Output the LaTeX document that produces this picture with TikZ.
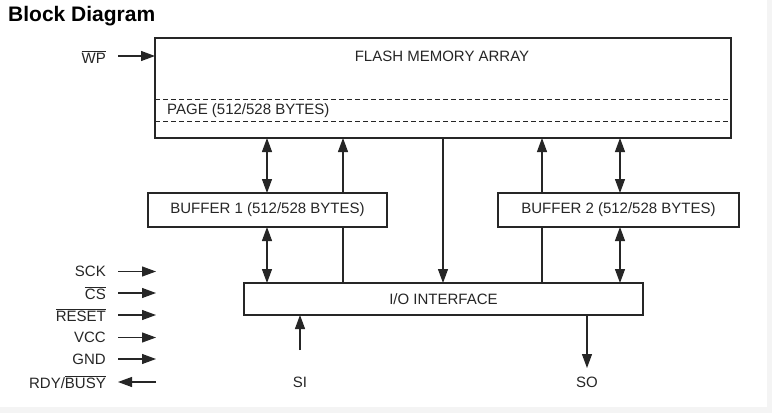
\documentclass[tikz,border=0pt]{standalone}
\usepackage{fontspec}
\setmainfont{Liberation Sans}
\usetikzlibrary{arrows.meta}
\newcommand\ovl[1]{$\overline{\hbox{#1}}$}
\definecolor{ink}{HTML}{262626}
\definecolor{strip}{HTML}{F4F4F4}
\tikzset{
  box/.style={draw=ink, line width=1.1pt, fill=white, inner sep=0pt, outer sep=0pt, font=\fontsize{15}{17}\selectfont, text=ink},
  lbl/.style={inner sep=0pt, font=\fontsize{15}{17}\selectfont, text=ink},
  conn/.style={draw=ink, line width=1.1pt},
  arr/.style={conn, -{Triangle[length=14pt,width=10pt]}},
  dbl/.style={conn, {Triangle[length=14pt,width=10pt]}-{Triangle[length=14pt,width=10pt]}},
  dashline/.style={draw=ink, line width=0.8pt, dash pattern=on 5pt off 3pt}
}
\begin{document}
\begin{tikzpicture}[x=1pt,y=-1pt]
\useasboundingbox (0,0) rectangle (772,413);
\fill[white] (0,0) rectangle (772,413);
\fill[strip] (767,0) rectangle (772,413);
\fill[strip] (0,407) rectangle (772,413);

\node[anchor=base west, inner sep=0pt, font=\fontsize{21}{24}\selectfont\bfseries] (title) at (8,21) {Block Diagram};

% blocks
\node[box, minimum width=576pt, minimum height=100pt] (flash) at (443,88) {};
\node[lbl] (flashtxt) at (442,56) {FLASH MEMORY ARRAY};
\draw[dashline] (flash.west |- 0,99) -- (flash.east |- 0,99);
\draw[dashline] (flash.west |- 0,121) -- (flash.east |- 0,121);
\node[lbl, anchor=west] (page) at (167,110.5) {PAGE (512/528 BYTES)};

\node[box, minimum width=239pt, minimum height=34pt] (buf1) at (267.5,210) {BUFFER 1 (512/528 BYTES)};
\node[box, minimum width=241pt, minimum height=34pt] (buf2) at (618.5,210) {BUFFER 2 (512/528 BYTES)};
\node[box, minimum width=399pt, minimum height=32pt] (io) at (443.5,299) {I/O INTERFACE};

% internal connectors
\coordinate (xa) at (267,0);
\coordinate (xb) at (343,0);
\coordinate (xc) at (443,0);
\coordinate (xd) at (542,0);
\coordinate (xe) at (620,0);
\draw[dbl] (flash.south -| xa) -- (buf1.north -| xa);
\draw[dbl] (buf1.south -| xa) -- (io.north -| xa);
\draw[conn] (io.north -| xb) -- (buf1.south -| xb);
\draw[arr] (buf1.north -| xb) -- (flash.south -| xb);
\draw[arr] (flash.south -| xc) -- (io.north -| xc);
\draw[conn] (io.north -| xd) -- (buf2.south -| xd);
\draw[arr] (buf2.north -| xd) -- (flash.south -| xd);
\draw[dbl] (flash.south -| xe) -- (buf2.north -| xe);
\draw[dbl] (buf2.south -| xe) -- (io.north -| xe);

% WP
\node[lbl, anchor=east] (wp) at (106,57) {\ovl{WP}};
\coordinate (wpS) at (118,56);
\draw[arr] (wpS) -- (wpS -| flash.west);

% left signals
\node[lbl, anchor=east] (sck) at (106,271) {SCK};
\node[lbl, anchor=east] (cs) at (106,293) {\ovl{CS}};
\node[lbl, anchor=east] (rst) at (106,315) {\ovl{RESET}};
\node[lbl, anchor=east] (vcc) at (106,337.5) {VCC};
\node[lbl, anchor=east] (gnd) at (106,359.5) {GND};
\node[lbl, anchor=east] (rdy) at (106,382) {RDY/\ovl{BUSY}};
\foreach \n/\yy in {sck/271.5,cs/293,rst/315,vcc/337.5,gnd/359}{
  \coordinate (\n S) at (118,\yy);
  \coordinate (\n E) at (156,\yy);
  \draw[arr] (\n S) -- (\n E);
}
\coordinate (rdyS) at (156,382);
\coordinate (rdyE) at (118,382);
\draw[arr] (rdyS) -- (rdyE);

% SI / SO
\node[lbl] (si) at (300,382) {SI};
\coordinate (siS) at (300,350);
\draw[arr] (siS) -- (siS |- io.south);
\node[lbl] (so) at (587,382) {SO};
\coordinate (soE) at (587,368);
\draw[arr] (soE |- io.south) -- (soE);
\end{tikzpicture}
\end{document}
